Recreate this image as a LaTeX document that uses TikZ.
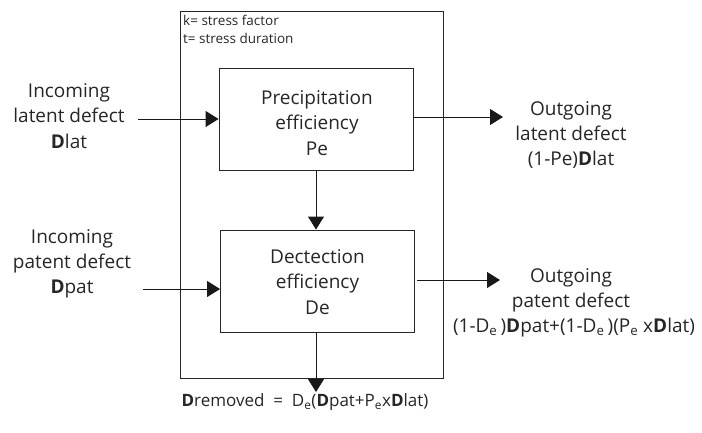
\documentclass[tikz,border=0pt]{standalone}
\usepackage{fontspec}
\setmainfont{Open Sans}
\usetikzlibrary{arrows.meta}
\tikzset{
  lbl/.style={align=center,font=\fontsize{19}{25.3}\selectfont,inner sep=0pt,text=black!85},
  blk/.style={draw=black!85,line width=0.9pt,minimum width=194pt,minimum height=102pt,inner sep=0pt},
  conn/.style={draw=black!90,line width=0.9pt},
  arr/.style={conn,-{Triangle[length=13pt,width=16pt]}},
}
\newcommand{\Db}{\textbf{D}}
\newcommand{\sbe}{\textsubscript{e}}
\begin{document}
\begin{tikzpicture}[x=1pt,y=-1pt]
\useasboundingbox (0,0) rectangle (702,432);
% outer frame
\node[draw=black!85,line width=0.9pt,minimum width=263pt,minimum height=367pt,inner sep=0pt] (frame) at (311.5,194.5) {};
\node[anchor=north west,inner sep=0pt,align=left,font=\fontsize{13.5}{18}\selectfont,text=black!85] (legend) at (183,15) {k= stress factor\\t= stress duration};
% blocks
\node[blk] (pe) at (316,119) {};
\node[lbl] (petext) at (317,123) {Precipitation\\efficiency\\Pe};
\node[blk] (de) at (317.5,281) {};
\node[lbl] (detext) at (317.5,282) {Dectection\\efficiency\\De};
% input labels
\node[lbl] (inlat) at (69,116) {Incoming\\latent defect\\\Db lat};
\node[lbl] (inpat) at (72,264) {Incoming\\patent defect\\\Db pat};
% output labels
\node[lbl] (outlat) at (571,135) {Outgoing\\latent defect\\(1-Pe)\Db lat};
\node[lbl] (outpat) at (571,290) {Outgoing\\patent defect};
\node[lbl] (outform) at (574,328) {(1-D\sbe\,)\Db pat+(1-D\sbe\,)(P\sbe\ x\Db lat)};
\node[lbl,font=\fontsize{17}{25}\selectfont] (removed) at (305,402) {\Db removed\ \ =\ \ D\sbe(\Db pat+P\sbe x\Db lat)};
% connector end points
\coordinate (i1) at (138,119);
\coordinate (i2) at (143,289);
\coordinate (o1) at (503,117);
\coordinate (o2) at (500,280);
\coordinate (r1) at (316,392);
% connectors
\draw[arr] (i1) -- (pe.west);
\draw[arr] (i2) -- (de.west |- i2);
\draw[arr] (pe.east |- o1) -- (o1);
\draw[arr] (417,280) -- (o2);
\draw[arr] (pe.south) -- (pe.south |- de.north);
\draw[arr] (de.south -| r1) -- (r1);
\end{tikzpicture}
\end{document}
